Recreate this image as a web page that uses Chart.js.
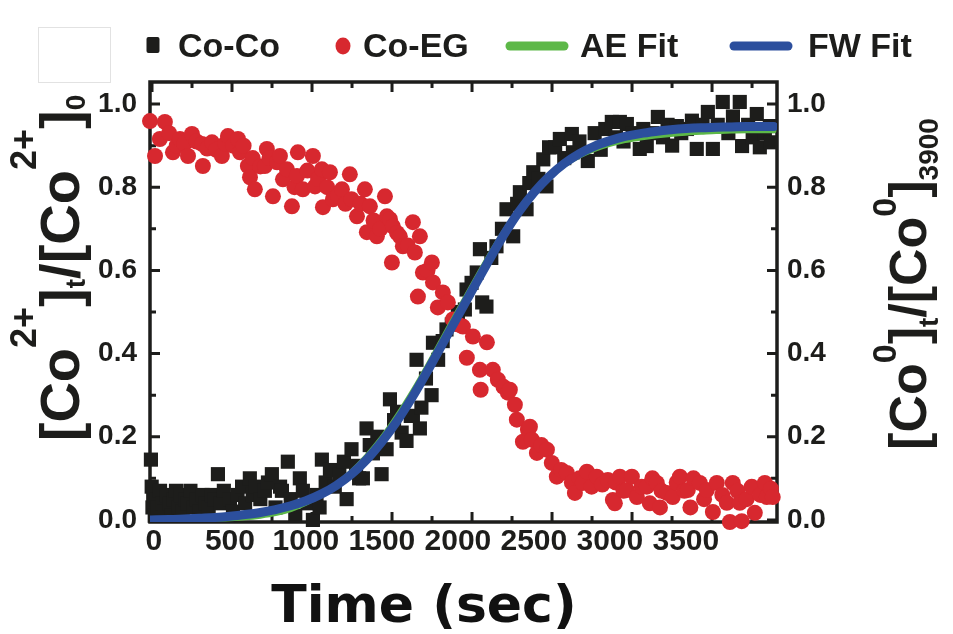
<!DOCTYPE html>
<html>
<head>
<meta charset="utf-8">
<script src="https://cdn.jsdelivr.net/npm/chart.js@4.4.1/dist/chart.umd.min.js"></script>
<style>
  body { margin: 0; background: #fff; }
  #wrap { width: 953px; height: 634px; }
</style>
</head>
<body>
<div id="wrap"><canvas id="kinetics" width="953" height="634"></canvas></div>
<script>
// values: time (sec) and normalized fraction
const cocoTime = [-20, -15, -10, -5, 5, 15, 25, 40, 55, 70, 85, 100, 115, 130, 145, 160, 175, 190, 205, 220,
  240, 260, 280, 300, 320, 340, 360, 380, 400, 421, 440, 460, 500, 520, 550, 580, 600, 631, 650, 670,
  700, 730, 750, 776, 800, 830, 842, 881, 900, 930, 960, 980, 1010, 1046, 1070, 1090, 1105, 1130, 1158, 1190,
  1220, 1250, 1268, 1300, 1330, 1350, 1375, 1399, 1420, 1441, 1470, 1498, 1531, 1553, 1580, 1600, 1630, 1662, 1690, 1704,
  1728, 1750, 1760, 1790, 1827, 1836, 1870, 1900, 1925, 1960, 2000, 2046, 2057, 2090, 2124, 2145, 2160, 2188, 2220, 2254,
  2290, 2320, 2364, 2390, 2408, 2452, 2470, 2496, 2530, 2562, 2583, 2600, 2640, 2671, 2700, 2750, 2757, 2800, 2855, 2900,
  2940, 2970, 3013, 3040, 3066, 3090, 3112, 3150, 3197, 3220, 3243, 3280, 3316, 3350, 3380, 3410, 3441, 3470, 3507, 3540,
  3572, 3610, 3645, 3678, 3710, 3743, 3780, 3810, 3855, 3870, 3910, 3940, 3967, 3987, 4020, 4053, 4060];
const cocoValue = [0.145, 0.08, 0.03, 0.06, 0.01, 0.05, 0.03, 0.07, 0.04, 0.02, 0.06, 0.04, 0.01, 0.05, 0.07, 0.03, 0.06, 0.02, 0.05, 0.04,
  0.07, 0.03, 0.05, 0.02, 0.06, 0.04, 0.03, 0.06, 0.05, 0.11, 0.04, 0.07, 0.05, 0.02, 0.06, 0.08, 0.04, 0.10, 0.06, 0.08,
  0.05, 0.07, 0.09, 0.11, 0.03, 0.08, 0.07, 0.14, 0.05, 0.01, 0.10, 0.07, 0.04, 0.00, 0.06, 0.03, 0.145, 0.09, 0.12, 0.08,
  0.11, 0.14, 0.05, 0.17, 0.13, 0.10, 0.10, 0.22, 0.18, 0.16, 0.20, 0.11, 0.17, 0.29, 0.24, 0.26, 0.21, 0.19, 0.25, 0.25,
  0.385, 0.22, 0.27, 0.34, 0.30, 0.426, 0.385, 0.43, 0.458, 0.47, 0.50, 0.506, 0.554, 0.57, 0.595, 0.651, 0.523, 0.513, 0.63, 0.658,
  0.70, 0.747, 0.682, 0.76, 0.788, 0.747, 0.81, 0.836, 0.82, 0.867, 0.802, 0.896, 0.896, 0.916, 0.87, 0.928, 0.884, 0.91, 0.863, 0.93,
  0.89, 0.94, 0.957, 0.92, 0.957, 0.91, 0.952, 0.93, 0.892, 0.94, 0.899, 0.93, 0.969, 0.92, 0.95, 0.90, 0.947, 0.93, 0.94, 0.96,
  0.892, 0.95, 0.981, 0.892, 0.95, 1.005, 0.93, 0.97, 1.005, 0.899, 0.95, 0.92, 0.976, 0.896, 0.93, 0.947, 0.908];

const coegTime = [-26, 7, 39, 72, 100, 125, 150, 171, 200, 224, 250, 280, 316, 322, 350, 382, 410, 447, 470, 487,
  520, 553, 566, 590, 618, 632, 650, 664, 700, 730, 743, 760, 783, 810, 829, 849, 875, 908, 925, 941,
  947, 980, 1010, 1046, 1060, 1080, 1105, 1112, 1140, 1158, 1178, 1210, 1237, 1260, 1289, 1300, 1336, 1360, 1388, 1401,
  1421, 1445, 1467, 1490, 1520, 1533, 1553, 1566, 1572, 1600, 1618, 1638, 1670, 1704, 1717, 1737, 1750, 1770, 1800, 1829,
  1836, 1868, 1901, 1934, 1967, 2000, 2033, 2059, 2099, 2145, 2150, 2191, 2230, 2263, 2300, 2329, 2342, 2375, 2388, 2428,
  2461, 2474, 2487, 2520, 2550, 2586, 2618, 2651, 2680, 2717, 2750, 2770, 2800, 2822, 2849, 2880, 2914, 2950, 2987, 3020,
  3033, 3040, 3066, 3090, 3112, 3145, 3178, 3210, 3243, 3263, 3280, 3309, 3330, 3340, 3375, 3414, 3440, 3461, 3490, 3513,
  3530, 3550, 3592, 3620, 3638, 3678, 3704, 3740, 3770, 3790, 3809, 3840, 3855, 3868, 3900, 3934, 3954, 3990, 4020, 4033,
  4060, 4072];
const coegValue = [0.959, 0.875, 0.916, 0.957, 0.93, 0.884, 0.90, 0.916, 0.905, 0.875, 0.928, 0.91, 0.904, 0.851, 0.893, 0.908, 0.89, 0.875, 0.905, 0.923,
  0.90, 0.916, 0.884, 0.90, 0.851, 0.824, 0.87, 0.795, 0.85, 0.851, 0.892, 0.87, 0.778, 0.86, 0.875, 0.819, 0.843, 0.754, 0.80, 0.827,
  0.884, 0.795, 0.84, 0.875, 0.802, 0.82, 0.843, 0.752, 0.80, 0.836, 0.771, 0.78, 0.795, 0.76, 0.831, 0.771, 0.73, 0.76, 0.795, 0.692,
  0.754, 0.72, 0.682, 0.70, 0.778, 0.73, 0.723, 0.619, 0.706, 0.69, 0.682, 0.658, 0.66, 0.716, 0.643, 0.537, 0.682, 0.595, 0.60, 0.619,
  0.571, 0.511, 0.547, 0.523, 0.482, 0.47, 0.465, 0.39, 0.441, 0.361, 0.313, 0.427, 0.361, 0.337, 0.32, 0.306, 0.313, 0.277, 0.241, 0.188,
  0.217, 0.224, 0.193, 0.161, 0.18, 0.169, 0.137, 0.104, 0.12, 0.113, 0.09, 0.065, 0.10, 0.089, 0.116, 0.08, 0.104, 0.085, 0.096, 0.048,
  0.04, 0.09, 0.104, 0.07, 0.072, 0.104, 0.055, 0.08, 0.08, 0.04, 0.10, 0.089, 0.03, 0.07, 0.065, 0.055, 0.09, 0.104, 0.07, 0.072,
  0.03, 0.10, 0.089, 0.05, 0.072, 0.019, 0.089, 0.06, 0.041, -0.005, 0.089, 0.07, 0.041, -0.003, 0.05, 0.08, 0.017, 0.06, 0.089, 0.055,
  0.075, 0.055];

const fitTime = [-26, 100, 200, 300, 400, 500, 600, 700, 800, 900, 1000, 1100, 1200, 1300, 1400, 1500, 1600, 1700, 1800, 1900, 2000,
  2100, 2200, 2300, 2400, 2500, 2600, 2700, 2800, 2900, 3000, 3100, 3200, 3300, 3400, 3500, 3600, 3700, 3800, 3900, 4000, 4080];
const aeFit = [0, 0, 0, 0.001, 0.002, 0.003, 0.005, 0.009, 0.015, 0.025, 0.040, 0.060, 0.085, 0.116, 0.154, 0.198, 0.250, 0.308, 0.371, 0.437, 0.503,
  0.568, 0.632, 0.692, 0.745, 0.790, 0.826, 0.853, 0.875, 0.891, 0.903, 0.912, 0.918, 0.923, 0.927, 0.930, 0.932, 0.934, 0.935, 0.936, 0.936, 0.936];
const fwFit = [0, 0.001, 0.002, 0.004, 0.006, 0.009, 0.013, 0.018, 0.025, 0.034, 0.046, 0.062, 0.083, 0.110, 0.145, 0.188, 0.238, 0.295, 0.358, 0.424, 0.490,
  0.556, 0.621, 0.684, 0.740, 0.787, 0.826, 0.857, 0.881, 0.899, 0.912, 0.922, 0.929, 0.934, 0.938, 0.941, 0.943, 0.944, 0.945, 0.946, 0.946, 0.946];

const timeTicks = [0, 500, 1000, 1500, 2000, 2500, 3000, 3500];
const fracTicks = [0, 0.2, 0.4, 0.6, 0.8, 1.0];
const fracMinor = [0.1, 0.3, 0.5, 0.7, 0.9];
// the frame tick marks sit on the original 0-3900 s grid, not on the labels
const frameMajor = [0, 500, 1000, 1500, 2000, 2500, 3000, 3500];
const frameMinor = [250, 750, 1250, 1750, 2250, 2750, 3250, 3750];

const xTitle = 'Time (sec)';
const leftTitle = [['[Co', 'm'], ['2+', 'sup'], [']', 'm'], ['t', 'sub'], ['/[Co', 'm'], ['2+', 'sup'], [']', 'm'], ['0', 'sub']];
const rightTitle = [['[Co', 'm'], ['0', 'sup'], [']', 'm'], ['t', 'sub'], ['/[Co', 'm'], ['0', 'sup'], [']', 'm'], ['3900', 'sub']];

const INK = '#1d1d1b';
const FONT = "'Liberation Sans', Arial, sans-serif";

const pts = (xs, ys) => xs.map((x, i) => ({ x: x, y: ys[i] }));

function drawRich(ctx, parts, x, y, st) {
  ctx.save();
  ctx.translate(x, y);
  ctx.rotate(-Math.PI / 2);
  ctx.fillStyle = INK;
  ctx.textBaseline = 'alphabetic';
  const fontOf = k => 'bold ' + st[k] + 'px ' + FONT;
  let total = 0;
  parts.forEach(p => { ctx.font = fontOf(p[1]); total += ctx.measureText(p[0]).width; });
  let cx = -total / 2;
  parts.forEach(p => {
    ctx.font = fontOf(p[1]);
    const dy = p[1] === 'sup' ? -st.raise : p[1] === 'sub' ? st.drop : 0;
    ctx.fillText(p[0], cx, dy);
    cx += ctx.measureText(p[0]).width;
  });
  ctx.restore();
}

const framePlugin = {
  id: 'frame',
  beforeDatasetsDraw(chart) {
    const { ctx, chartArea: a, scales } = chart;
    ctx.save();
    ctx.strokeStyle = INK;
    ctx.lineWidth = 3;
    const xf = scales.xf, y = scales.y;
    const xTick = (v, len) => {
      const px = xf.getPixelForValue(v);
      ctx.beginPath();
      ctx.moveTo(px, a.bottom); ctx.lineTo(px, a.bottom - len);
      ctx.moveTo(px, a.top); ctx.lineTo(px, a.top + len);
      ctx.stroke();
    };
    const yTick = (v, len) => {
      const py = y.getPixelForValue(v);
      ctx.beginPath();
      ctx.moveTo(a.left, py); ctx.lineTo(a.left + len, py);
      ctx.moveTo(a.right, py); ctx.lineTo(a.right - len, py);
      ctx.stroke();
    };
    frameMajor.forEach(v => xTick(v, 10));
    frameMinor.forEach(v => xTick(v, 6));
    fracTicks.forEach(v => yTick(v, 10));
    fracMinor.forEach(v => yTick(v, 6));
    ctx.lineWidth = 3.5;
    ctx.strokeRect(a.left, a.top, a.right - a.left, a.bottom - a.top);
    ctx.restore();
  },
  afterDraw(chart) {
    const ctx = chart.ctx;
    const ds = chart.data.datasets;
    ctx.save();
    // faint empty box in the top-left corner of the original
    ctx.strokeStyle = '#e2e2e2';
    ctx.lineWidth = 1;
    ctx.strokeRect(38.5, 27.5, 72, 55);

    // legend
    const markX = [153, 343, 537, 761];
    const textX = [178, 363, 580, 808];
    const ly = 45;
    ctx.font = 'bold 34px ' + FONT;
    ctx.textBaseline = 'alphabetic';
    ds.forEach((d, i) => {
      ctx.fillStyle = d.borderColor;
      ctx.strokeStyle = d.borderColor;
      if (d.pointStyle === 'rect') {
        ctx.beginPath();
        ctx.roundRect(markX[i] - 6.5, ly - 8, 13, 16, 2);
        ctx.fill();
      } else if (d.pointStyle === 'circle') {
        ctx.beginPath();
        ctx.ellipse(markX[i], ly + 1, 7.5, 8.5, 0, 0, Math.PI * 2);
        ctx.fill();
      } else {
        ctx.lineWidth = 9;
        ctx.lineCap = 'round';
        ctx.beginPath();
        ctx.moveTo(markX[i] - 27, ly + 1);
        ctx.lineTo(markX[i] + 27, ly + 1);
        ctx.stroke();
      }
      ctx.fillStyle = INK;
      ctx.fillText(d.label, textX[i], ly + 12);
    });

    // x axis title, set left of the plot centre as in the original
    ctx.fillStyle = '#111';
    ctx.font = "bold 52px 'DejaVu Sans', sans-serif";
    ctx.textAlign = 'center';
    ctx.fillText(xTitle, 424, 622);
    ctx.restore();

    drawRich(ctx, leftTitle, 79, 268, { m: 56, sup: 36, sub: 28, raise: 43, drop: 6 });
    drawRich(ctx, rightTitle, 926, 284, { m: 52, sup: 34, sub: 28, raise: 30, drop: 12 });
  }
};

const tickFont = { family: FONT, weight: 'bold', size: 28 };

new Chart(document.getElementById('kinetics'), {
  type: 'scatter',
  plugins: [framePlugin],
  data: {
    datasets: [
      {
        label: 'Co-Co',
        data: pts(cocoTime, cocoValue),
        pointStyle: 'rect',
        pointRadius: 10,
        backgroundColor: INK,
        borderColor: INK,
        borderWidth: 0,
        clip: false,
        order: 3
      },
      {
        label: 'Co-EG',
        data: pts(coegTime, coegValue),
        pointStyle: 'circle',
        pointRadius: 8,
        backgroundColor: '#d7282f',
        borderColor: '#d7282f',
        borderWidth: 0,
        clip: false,
        order: 2
      },
      {
        label: 'AE Fit',
        data: pts(fitTime, aeFit),
        showLine: true,
        pointRadius: 0,
        borderColor: '#5db848',
        backgroundColor: '#5db848',
        borderWidth: 5,
        cubicInterpolationMode: 'monotone',
        borderCapStyle: 'round',
        order: 1
      },
      {
        label: 'FW Fit',
        data: pts(fitTime, fwFit),
        showLine: true,
        pointRadius: 0,
        borderColor: '#2c4f9d',
        backgroundColor: '#2c4f9d',
        borderWidth: 9,
        cubicInterpolationMode: 'monotone',
        borderCapStyle: 'round',
        order: 0
      }
    ]
  },
  options: {
    responsive: false,
    animation: false,
    events: [],
    layout: { padding: { top: 82, left: 0, right: 0, bottom: 0 } },
    plugins: {
      legend: { display: false },
      tooltip: { enabled: false }
    },
    scales: {
      x: {
        type: 'linear',
        position: 'bottom',
        min: -26,
        max: 4100,
        afterBuildTicks: s => { s.ticks = timeTicks.map(v => ({ value: v })); },
        afterFit: s => { s.height = 112; },
        grid: { display: false, drawTicks: false },
        border: { display: false },
        ticks: {
          font: { family: FONT, weight: 'bold', size: 30 },
          color: INK,
          padding: 2,
          maxRotation: 0,
          autoSkip: false,
          callback: v => String(v)
        }
      },
      xf: {
        type: 'linear',
        position: 'bottom',
        display: false,
        min: -12.5,
        max: 3906
      },
      y: {
        position: 'left',
        min: -0.005,
        max: 1.053,
        afterBuildTicks: s => { s.ticks = fracTicks.map(v => ({ value: v })); },
        afterFit: s => { s.width = 150; },
        grid: { display: false, drawTicks: false },
        border: { display: false },
        ticks: { font: tickFont, color: INK, padding: 13, callback: v => v.toFixed(1) }
      },
      y1: {
        position: 'right',
        min: -0.005,
        max: 1.053,
        afterBuildTicks: s => { s.ticks = fracTicks.map(v => ({ value: v })); },
        afterFit: s => { s.width = 176; },
        grid: { display: false, drawTicks: false },
        border: { display: false },
        ticks: { font: tickFont, color: INK, padding: 10, callback: v => v.toFixed(1) }
      }
    }
  }
});
</script>
</body>
</html>
